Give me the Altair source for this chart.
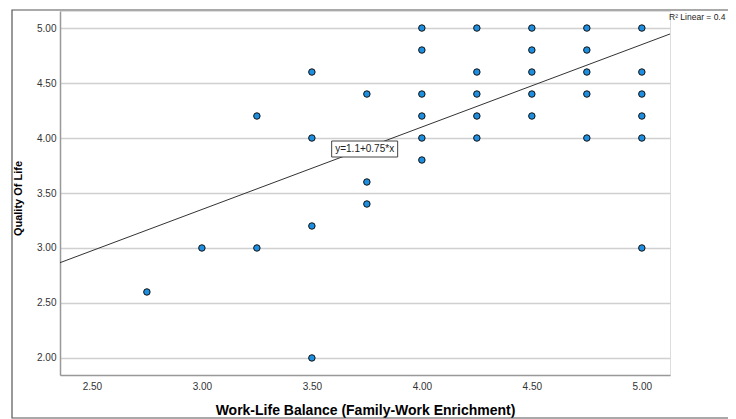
import altair as alt
import pandas as pd

# Scatter data: Work-Life Balance (x) vs Quality Of Life (y)
x_vals = [2.75,
          3.00,
          3.25, 3.25,
          3.50, 3.50, 3.50, 3.50,
          3.75, 3.75, 3.75,
          4.00, 4.00, 4.00, 4.00, 4.00, 4.00,
          4.25, 4.25, 4.25, 4.25, 4.25,
          4.50, 4.50, 4.50, 4.50, 4.50,
          4.75, 4.75, 4.75, 4.75, 4.75,
          5.00, 5.00, 5.00, 5.00, 5.00, 5.00]
y_vals = [2.60,
          3.00,
          4.20, 3.00,
          4.60, 4.00, 3.20, 2.00,
          4.40, 3.60, 3.40,
          5.00, 4.80, 4.40, 4.20, 4.00, 3.80,
          5.00, 4.60, 4.40, 4.20, 4.00,
          5.00, 4.80, 4.60, 4.40, 4.20,
          5.00, 4.80, 4.60, 4.40, 4.00,
          5.00, 4.60, 4.40, 4.20, 4.00, 3.00]

intercept = 1.1
slope = 0.75
eq_text = ["y=1.1+0.75*x"]
eq_pos_x = [3.74]
eq_pos_y = [3.90]
r2_text = ["R² Linear = 0.4"]

x_ticks = [2.5, 3.0, 3.5, 4.0, 4.5, 5.0]
y_ticks = [2.0, 2.5, 3.0, 3.5, 4.0, 4.5, 5.0]
x_domain = [2.355, 5.128]
y_domain = [1.845, 5.155]

FONT = "Liberation Sans"

pts = pd.DataFrame({"x": x_vals, "y": y_vals})
line_df = pd.DataFrame({"x": x_domain,
                        "y": [intercept + slope * v for v in x_domain]})
eq_df = pd.DataFrame({"x": eq_pos_x, "y": eq_pos_y, "t": eq_text})
r2_df = pd.DataFrame({"t": r2_text})

xscale = alt.Scale(domain=x_domain, nice=False, zero=False)
yscale = alt.Scale(domain=y_domain, nice=False, zero=False)

xaxis = alt.Axis(title="Work-Life Balance (Family-Work Enrichment)",
                 values=x_ticks, format=".2f", grid=False, ticks=False,
                 labelFont=FONT, labelFontSize=10, labelColor="#333",
                 labelPadding=6, domainColor="#999", domainWidth=1.5,
                 titleFont=FONT, titleFontSize=14, titleFontWeight="bold",
                 titleColor="#000", titleY=39.5, titleBaseline="alphabetic")
yaxis = alt.Axis(title="Quality Of Life",
                 values=y_ticks, format=".2f", grid=True, ticks=False,
                 gridColor="#d0d0d0", gridWidth=1.5,
                 labelFont=FONT, labelFontSize=10, labelColor="#333",
                 labelPadding=4, domainColor="#999", domainWidth=1.5,
                 titleFont=FONT, titleFontSize=11, titleFontWeight="bold",
                 titleColor="#000", titleX=-42, titleY=187,
                 titleBaseline="middle", titleAlign="center", titleAngle=270)

frame = alt.Chart(r2_df).mark_rect(fill="transparent", stroke="#555",
                                   strokeWidth=1.2).encode(
    x=alt.value(-48), x2=alt.value(740), y=alt.value(-1), y2=alt.value(407))

points = alt.Chart(pts).mark_point(
    filled=True, fill="#1e8fe0", stroke="#111", strokeWidth=1,
    size=42, opacity=1, shape="circle").encode(
    x=alt.X("x:Q", scale=xscale, axis=xaxis),
    y=alt.Y("y:Q", scale=yscale, axis=yaxis))

fit = alt.Chart(line_df).mark_line(color="#333", strokeWidth=1).encode(
    x=alt.X("x:Q", scale=xscale), y=alt.Y("y:Q", scale=yscale))

box = alt.Chart(eq_df).mark_point(
    shape="M-1,-0.2424H1V0.2424H-1Z", size=4356, filled=True,
    fill="white", stroke="#444", strokeWidth=1, opacity=1).encode(
    x=alt.X("x:Q", scale=xscale), y=alt.Y("y:Q", scale=yscale))

eq = alt.Chart(eq_df).mark_text(font=FONT, fontSize=10, color="#222",
                                align="center", baseline="middle").encode(
    x=alt.X("x:Q", scale=xscale), y=alt.Y("y:Q", scale=yscale),
    text="t:N")

r2 = alt.Chart(r2_df).mark_text(font=FONT, fontSize=8.5, color="#222",
                                align="left", baseline="middle").encode(
    x=alt.value(609), y=alt.value(6), text="t:N")

chart = alt.layer(frame, fit, points, box, eq, r2).properties(
    width=610, height=364,
    padding={"left": 52, "top": 3, "right": 58, "bottom": 44},
    autosize=alt.AutoSizeParams(type="none"),
).configure_view(stroke=None).configure(background="white")

chart.save("out.html", embed_options={"renderer": "svg", "actions": False})
